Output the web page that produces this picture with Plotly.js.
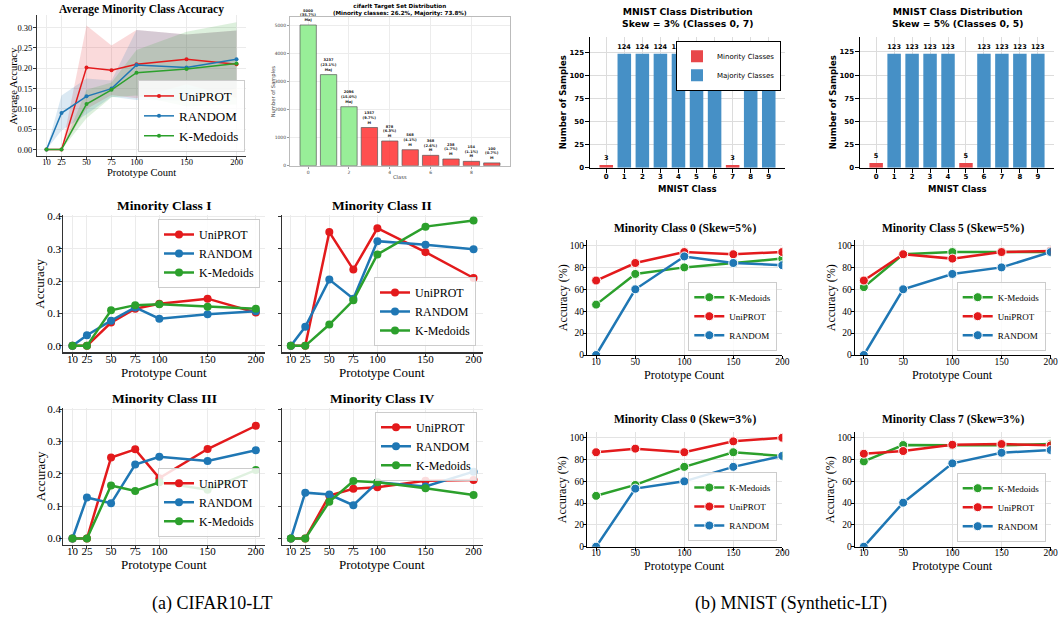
<!DOCTYPE html>
<html><head><meta charset="utf-8">
<script src="https://cdn.plot.ly/plotly-3.0.1.min.js"></script>
<style>html,body{margin:0;padding:0;background:#fff}#chart{width:1058px;height:619px}</style>
</head><body><div id="chart"></div>
<script>
// ================= DATA =================
const methods = ['UniPROT','RANDOM','K-Medoids'];
const protoCifar = [10,25,50,75,100,150,200];
const xTicksCifar = [10,25,50,75,100,150,200];

const avgUni   = [0,0,0.202,0.195,0.210,0.222,0.210];
const avgUniLo = [0,0,0.100,0.134,0.126,0.161,0.127];
const avgUniHi = [0,0,0.305,0.256,0.294,0.283,0.293];
const avgRnd   = [0,0.090,0.131,0.150,0.208,0.202,0.222];
const avgRndLo = [0,0.047,0.087,0.130,0.122,0.121,0.151];
const avgRndHi = [0,0.133,0.175,0.170,0.294,0.283,0.293];
const avgKm    = [0,0,0.112,0.147,0.189,0.198,0.212];
const avgKmLo  = [0,0,0.077,0.129,0.133,0.106,0.111];
const avgKmHi  = [0,0,0.147,0.165,0.245,0.290,0.313];

const cifarClasses = [0,1,2,3,4,5,6,7,8,9];
const cifarCounts  = [5000,3237,2096,1357,878,568,368,238,154,100];
const cifarShare   = ['35.7%','23.1%','15.0%','9.7%','6.3%','4.1%','2.6%','1.7%','1.1%','0.7%'];
const cifarTag     = ['Maj','Maj','Maj','M','M','M','M','M','M','M'];

const mnistClasses = [0,1,2,3,4,5,6,7,8,9];
const mnistSkew3 = [3,124,124,124,124,124,124,3,124,124];
const mnistSkew3Minority = [0,7];
const mnistSkew5 = [5,123,123,123,123,5,123,123,123,123];
const mnistSkew5Minority = [0,5];

const c1Uni = [0,0,0.072,0.115,0.130,0.146,0.103];
const c1Rnd = [0,0.033,0.078,0.119,0.084,0.098,0.107];
const c1Km  = [0,0,0.110,0.126,0.129,0.121,0.115];
const c2Uni = [0,0,0.352,0.236,0.364,0.290,0.210];
const c2Rnd = [0,0.059,0.205,0.146,0.324,0.313,0.299];
const c2Km  = [0,0,0.066,0.141,0.283,0.369,0.388];
const c3Uni = [0,0,0.251,0.276,0.187,0.277,0.349];
const c3Rnd = [0,0.127,0.109,0.229,0.253,0.240,0.273];
const c3Km  = [0,0,0.164,0.147,0.174,0.151,0.212];
const c4Uni = [0,0,0.133,0.154,0.159,0.179,0.181];
const c4Rnd = [0,0.142,0.136,0.103,0.174,0.161,0.207];
const c4Km  = [0,0,0.114,0.178,0.174,0.156,0.135];

const protoMnist = [10,50,100,150,200];
const m0s5Km  = [46,74,80,84,88];
const m0s5Uni = [68,84,94,92,94];
const m0s5Rnd = [0,60,90,84,82];
const m5s5Km  = [62,92,94,94,94];
const m5s5Uni = [68,92,88,94,95];
const m5s5Rnd = [0,60,74,80,94];
const m0s3Km  = [46.7,56.7,73.3,86.7,83.3];
const m0s3Uni = [86.7,90,86.7,96.7,100];
const m0s3Rnd = [0,53.3,60,73.3,83.3];
const m7s3Km  = [78.3,93.3,93,93,94.2];
const m7s3Uni = [85.3,87.8,93.6,94.2,93];
const m7s3Rnd = [0,40.4,76.5,86.2,88.7];

// ================= STYLE / LAYOUT =================
const W = 1058, H = 619;
const SERIF = 'Liberation Serif, Times New Roman, serif';
const SANS = 'DejaVu Sans, sans-serif';
const RED = '#e31a1c', BLUE = '#1f77b4', GREEN = '#2ca02c';
const colorOf = {'UniPROT':RED,'RANDOM':BLUE,'K-Medoids':GREEN};

const boxes = {
  1:[37,246,15,156], 2:[290,510,16.7,165.7], 3:[590,785,36.7,167.7], 4:[860,1054,36.7,167.7],
  5:[63.3,265,215,352.3], 6:[281.7,482.7,215,352.3], 7:[63.3,265,407.7,545], 8:[281.7,482.7,407.7,545],
  9:[587.3,782.3,240,355], 10:[855,1050.7,240,355], 11:[587.3,782.3,432.3,546.7], 12:[855,1050.7,432.3,546.7]
};
const px = v => v / W;
const py = v => 1 - v / H;
function xdom(i){ return [px(boxes[i][0]), px(boxes[i][1])]; }
function ydom(i){ return [py(boxes[i][3]), py(boxes[i][2])]; }
function xid(i){ return i === 1 ? 'x' : 'x' + i; }
function yid(i){ return i === 1 ? 'y' : 'y' + i; }
function xkey(i){ return i === 1 ? 'xaxis' : 'xaxis' + i; }
function ykey(i){ return i === 1 ? 'yaxis' : 'yaxis' + i; }

const layout = {
  width: W, height: H, margin: {l:0,r:0,t:0,b:0},
  paper_bgcolor: '#fff', plot_bgcolor: 'rgba(0,0,0,0)',
  showlegend: true, barmode: 'overlay', annotations: [], font: {family: SERIF}
};
const traces = [];

function setAxes(i, xo, yo){
  layout[xkey(i)] = Object.assign({domain: xdom(i), anchor: yid(i), zeroline: false, fixedrange: true, ticklabeloverflow: 'allow'}, xo);
  layout[ykey(i)] = Object.assign({domain: ydom(i), anchor: xid(i), zeroline: false, fixedrange: true, ticklabeloverflow: 'allow'}, yo);
}
function ann(text, x, y, size, family, opts){
  layout.annotations.push(Object.assign({
    text: text, x: px(x), y: py(y), xref: 'paper', yref: 'paper', showarrow: false,
    xanchor: 'center', yanchor: 'middle', font: {size: size, family: family, color: '#000'}
  }, opts || {}));
}
function legendAt(name, xr, yv, anchorY, size, family, border){
  layout[name] = {
    x: px(xr), y: py(yv), xanchor: 'right', yanchor: anchorY, traceorder: 'normal',
    font: {size: size, family: family, color: '#000'},
    bgcolor: 'rgba(255,255,255,0.85)', bordercolor: border || '#cccccc', borderwidth: 1,
    tracegroupgap: 0
  };
}

// ---------- Panel 1: average minority accuracy ----------
const serifAxis = (size) => ({
  showgrid: true, gridcolor: '#ebebeb', gridwidth: 1, showline: true, linecolor: '#333', linewidth: 1,
  ticks: 'outside', ticklen: 3, tickcolor: '#333', tickfont: {family: SERIF, size: size, color: '#000'}
});
setAxes(1,
  Object.assign(serifAxis(8.5), {range:[0.5,209.5], tickvals: xTicksCifar, ticklabelstandoff: -5}),
  Object.assign(serifAxis(8.5), {range:[-0.0157,0.331], tickvals:[0,0.05,0.10,0.15,0.20,0.25,0.30], tickformat:'.2f', ticklabelstandoff: -1})
);
const avgSets = [
  ['UniPROT', avgUni, avgUniLo, avgUniHi, 'rgba(227,26,28,0.16)'],
  ['RANDOM', avgRnd, avgRndLo, avgRndHi, 'rgba(31,119,180,0.16)'],
  ['K-Medoids', avgKm, avgKmLo, avgKmHi, 'rgba(44,160,44,0.16)']
];
avgSets.forEach(s => {
  traces.push({x: protoCifar, y: s[2], xaxis:'x', yaxis:'y', mode:'lines', line:{width:0, color:s[4]}, showlegend:false, hoverinfo:'skip', legend:'legend'});
  traces.push({x: protoCifar, y: s[3], xaxis:'x', yaxis:'y', mode:'lines', line:{width:0, color:s[4]}, fill:'tonexty', fillcolor:s[4], showlegend:false, hoverinfo:'skip', legend:'legend'});
});
avgSets.forEach(s => {
  traces.push({x: protoCifar, y: s[1], name: s[0], xaxis:'x', yaxis:'y', mode:'lines+markers',
    line:{width:1.5, color: colorOf[s[0]]}, marker:{size:4, color: colorOf[s[0]]}, legend:'legend'});
});
legendAt('legend', 245, 152, 'bottom', 13, SERIF);
ann('<b>Average Minority Class Accuracy</b>', 141.5, 10, 11.5, SERIF);
ann('Prototype Count', 141.5, 173, 10.5, SERIF);
ann('Average Accuracy', 13.3, 85.5, 10.5, SERIF, {textangle: -90});

// ---------- Panel 2: cifar distribution ----------
const tinyAxis = {showgrid:true, gridcolor:'#ececec', showline:true, mirror:true, linecolor:'#bbbbbb', linewidth:1,
  ticks:'outside', ticklen:2, tickcolor:'#999', tickfont:{family:SANS, size:4.5, color:'#444'}};
setAxes(2,
  Object.assign({}, tinyAxis, {range:[-0.89,9.89], tickvals:[0,2,4,6,8]}),
  Object.assign({}, tinyAxis, {range:[0,5295], tickvals:[0,1000,2000,3000,4000,5000]})
);
traces.push({
  type:'bar', x: cifarClasses, y: cifarCounts, xaxis:'x2', yaxis:'y2', width:0.8, showlegend:false,
  marker:{color: cifarTag.map(t => t === 'Maj' ? '#98ee98' : 'rgba(255,30,30,0.78)'), line:{color:'rgba(90,90,90,0.7)', width:1}},
  text: cifarCounts.map((c,i) => '<b>' + c + '<br>(' + cifarShare[i] + ')<br>' + cifarTag[i] + '</b>'),
  textposition:'outside', cliponaxis:false, constraintext:'none',
  textfont:{family:SANS, size:3.6, color:'#222'}
});
ann('<b>cifarlt Target Set Distribution<br>(Minority classes: 26.2%, Majority: 73.8%)</b>', 400, 9.7, 5.6, SANS);
ann('Class', 400, 176.7, 5.2, SANS, {font:{size:5.2,family:SANS,color:'#444'}});
ann('Number of Samples', 273.3, 91, 5.2, SANS, {textangle:-90, font:{size:5.2,family:SANS,color:'#444'}});

// ---------- Panels 3,4: MNIST distribution ----------
const mnAxis = {showgrid:true, gridcolor:'#dcdcdc', gridwidth:1, showline:true, linecolor:'#000', linewidth:1.5,
  ticks:'outside', ticklen:4, tickcolor:'#000', tickfont:{family:SANS, size:7, weight:'bold', color:'#000'}};
function mnistDist(i, counts, minority, showLeg, title, cx){
  const ymax = Math.max.apply(null, counts) * 1.15;
  setAxes(i,
    Object.assign({}, mnAxis, {range:[-0.9,9.9], tickvals: mnistClasses, ticklabelstandoff: -3}),
    Object.assign({}, mnAxis, {range:[0, ymax], tickvals:[0,25,50,75,100,125], ticklabelstandoff: -1})
  );
  const minX = mnistClasses.filter(c => minority.includes(c));
  const majX = mnistClasses.filter(c => !minority.includes(c));
  const common = {type:'bar', xaxis: xid(i), yaxis: yid(i), width:0.75, textposition:'outside', cliponaxis:false,
    constraintext:'none', textfont:{family:SANS, size:6.5, weight:'bold', color:'#000'}, legend:'legend2', showlegend: showLeg};
  traces.push(Object.assign({}, common, {name:'Minority Classes', x:minX, y:minX.map(c => counts[c]),
    text: minX.map(c => String(counts[c])), marker:{color:'#e8474a'}}));
  traces.push(Object.assign({}, common, {name:'Majority Classes', x:majX, y:majX.map(c => counts[c]),
    text: majX.map(c => String(counts[c])), marker:{color:'#4690c6'}}));
  ann('<b>MNIST Class Distribution<br>' + title + '</b>', cx, 17.5, 9.3, SANS);
  ann('<b>MNIST Class</b>', cx, 189.3, 8.5, SANS);
}
mnistDist(3, mnistSkew3, mnistSkew3Minority, true, 'Skew = 3% (Classes 0, 7)', 687.5);
mnistDist(4, mnistSkew5, mnistSkew5Minority, false, 'Skew = 5% (Classes 0, 5)', 957);
ann('<b>Number of Samples</b>', 563.3, 102, 8.5, SANS, {textangle:-90});
ann('<b>Number of Samples</b>', 833.3, 102, 8.5, SANS, {textangle:-90});
layout.legend2 = {x: px(781), y: py(40.7), xanchor:'right', yanchor:'top', traceorder:'normal', tracegroupgap:0,
  itemwidth: 30, font:{size:7, family:SANS, color:'#000'}, bgcolor:'#fff', bordercolor:'#000', borderwidth:1};

// ---------- Panels 5-8: minority classes I-IV ----------
const classSets = [
  [5, c1Uni, c1Rnd, c1Km, 'Minority Class I', true, 'legend3', 260, 219, 'top', 164, 215, 371.7],
  [6, c2Uni, c2Rnd, c2Km, 'Minority Class II', false, 'legend4', 476, 346, 'bottom', 382, 215, 371.7],
  [7, c3Uni, c3Rnd, c3Km, 'Minority Class III', true, 'legend5', 260, 536.7, 'bottom', 164, 407.7, 564.3],
  [8, c4Uni, c4Rnd, c4Km, 'Minority Class IV', false, 'legend6', 477, 411.7, 'top', 382, 407.7, 564.3]
];
classSets.forEach(s => {
  const i = s[0];
  setAxes(i,
    Object.assign(serifAxis(11), {range:[0.5,209.5], tickvals: xTicksCifar, linewidth:1.2, ticklabelstandoff: -7}),
    Object.assign(serifAxis(11), {range:[-0.02,0.405], tickvals:[0,0.1,0.2,0.3,0.4], tickformat:'.1f', showticklabels: s[5], linewidth:1.2, ticklabelstandoff: -4})
  );
  [[methods[0], s[1]], [methods[1], s[2]], [methods[2], s[3]]].forEach(m => {
    traces.push({x: protoCifar, y: m[1], name: m[0], xaxis: xid(i), yaxis: yid(i), mode:'lines+markers',
      line:{width:2.5, color: colorOf[m[0]]}, marker:{size:8, color: colorOf[m[0]]}, legend: s[6]});
  });
  legendAt(s[6], s[7], s[8], s[9], 12, SERIF);
  ann('<b>' + s[4] + '</b>', s[10], s[11] - 9.5, 13.5, SERIF);
  ann('Prototype Count', s[10], s[12] + 0.5, 13, SERIF);
});
ann('Accuracy', 40, 283.7, 13, SERIF, {textangle:-90});
ann('Accuracy', 40, 476.3, 13, SERIF, {textangle:-90});

// ---------- Panels 9-12: MNIST minority accuracy ----------
const mnistSets = [
  [9, m0s5Km, m0s5Uni, m0s5Rnd, 'Minority Class 0 (Skew=5%)', 'legend7', 777.3, 350.7, 684.8, 228.3, 374.5, 562.7],
  [10, m5s5Km, m5s5Uni, m5s5Rnd, 'Minority Class 5 (Skew=5%)', 'legend8', 1045.7, 350.7, 952.9, 228.3, 374.5, 830.7],
  [11, m0s3Km, m0s3Uni, m0s3Rnd, 'Minority Class 0 (Skew=3%)', 'legend9', 777.3, 541, 684.8, 420, 565.5, 562.7],
  [12, m7s3Km, m7s3Uni, m7s3Rnd, 'Minority Class 7 (Skew=3%)', 'legend10', 1045.7, 541.7, 952.9, 420, 565.5, 830.7]
];
const mlAxis = (size) => ({showgrid:true, gridcolor:'#e3e3e3', gridwidth:1, showline:true, linecolor:'#000', linewidth:1.3,
  ticks:'outside', ticklen:3, tickcolor:'#000', tickfont:{family:SERIF, size:size, color:'#000'}});
mnistSets.forEach(s => {
  const i = s[0];
  setAxes(i,
    Object.assign(mlAxis(9.5), {range:[1,200.01], tickvals: protoMnist, ticklabelstandoff: -6}),
    Object.assign(mlAxis(9.5), {range:[0,105], tickvals:[0,20,40,60,80,100], ticklabelstandoff: -3})
  );
  [['K-Medoids', s[1]], ['UniPROT', s[2]], ['RANDOM', s[3]]].forEach(m => {
    traces.push({x: protoMnist, y: m[1], name: m[0], xaxis: xid(i), yaxis: yid(i), mode:'lines+markers',
      line:{width:2.5, color: colorOf[m[0]]}, marker:{size:9, color: colorOf[m[0]], line:{color:'#fff', width:1}}, legend: s[5]});
  });
  legendAt(s[5], s[6], s[7], 'bottom', 9, SERIF);
  ann('<b>' + s[4] + '</b>', s[8], s[9], 11.5, SERIF);
  ann('Prototype Count', s[8], s[10], 12.2, SERIF);
  ann('Accuracy (%)', s[11], (boxes[i][2] + boxes[i][3]) / 2, 12, SERIF, {textangle:-90});
});

// ---------- captions ----------
ann('(a) CIFAR10-LT', 212, 603, 18, SERIF);
ann('(b) MNIST (Synthetic-LT)', 791, 603, 18, SERIF);

Plotly.newPlot('chart', traces, layout, {staticPlot: true, displayModeBar: false});
</script></body></html>
